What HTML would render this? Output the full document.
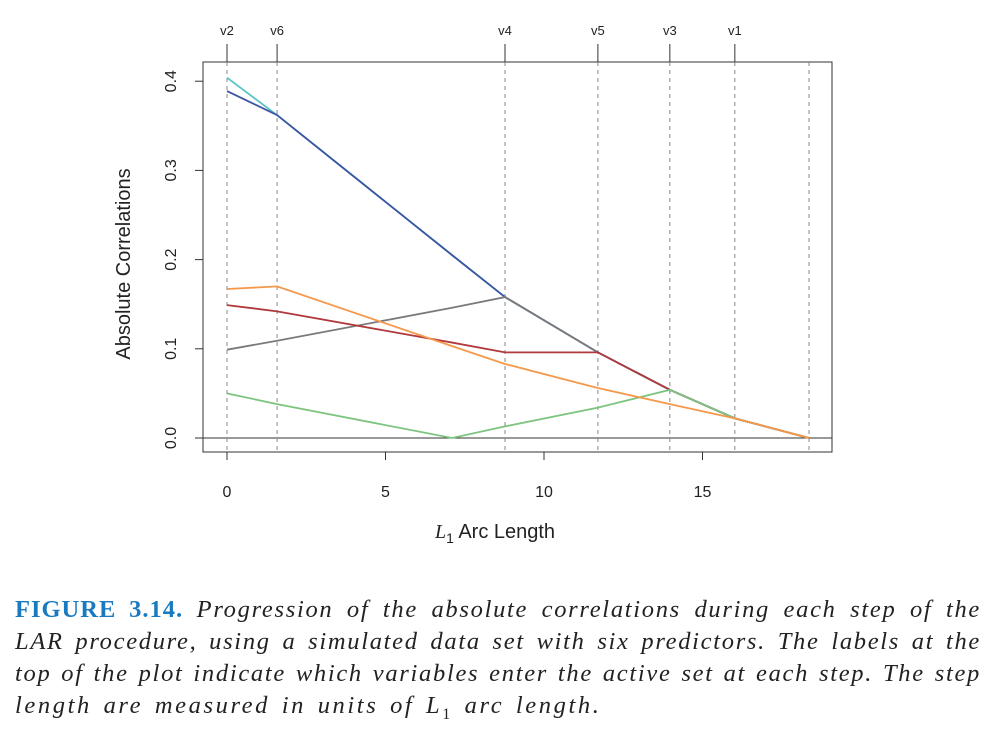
<!DOCTYPE html>
<html><head><meta charset="utf-8">
<style>
body{margin:0;background:#fff;width:1003px;height:747px;overflow:hidden;position:relative}
svg{position:absolute;left:0;top:0}
#cap{position:absolute;left:15px;top:594px;width:966px;font-family:"Liberation Serif",serif;font-style:italic;font-size:24.5px;line-height:32px;color:#222;letter-spacing:1.7px}
#cap .ln{height:32px;text-align:justify;text-align-last:justify;white-space:nowrap}
#cap .last{text-align-last:left;letter-spacing:2.6px;word-spacing:3px}
#cap b{font-style:normal;color:#1a7abf;letter-spacing:1px}
</style></head><body>
<svg id="chart" width="1003" height="590" font-family="Liberation Sans, sans-serif"></svg>
<div id="cap">
<div class="ln"><b>FIGURE 3.14.</b> Progression of the absolute correlations during each step of the</div>
<div class="ln">LAR procedure, using a simulated data set with six predictors. The labels at the</div>
<div class="ln">top of the plot indicate which variables enter the active set at each step. The step</div>
<div class="ln last">length are measured in units of L<sub style="font-style:normal;font-size:16px">1</sub> arc length.</div>
</div>
<script>
const steps=[0,1.58,7.1,8.77,11.7,13.97,16.02,18.36];
const stepLabels=["v2","v6","v4","v5","v3","v1",""];
const stepX=[0,1.58,8.77,11.7,13.97,16.02,18.36];
const cyanVals=[0.404,0.362,0.205,0.158,0.096,0.054,0.022,0];
const blueVals=[0.389,0.362,0.205,0.158,0.096,0.054,0.022,0];
const greyVals=[0.099,0.109,0.146,0.158,0.096,0.054,0.022,0];
const redVals=[0.149,0.142,0.107,0.096,0.096,0.054,0.022,0];
const greenVals=[0.050,0.038,0,0.013,0.034,0.054,0.022,0];
const orangeVals=[0.167,0.170,0.103,0.083,0.056,0.038,0.022,0];
const xTicks=[0,5,10,15];
const yTicks=[0,0.1,0.2,0.3,0.4];
const svg=document.getElementById('chart');
const NS='http://www.w3.org/2000/svg';
const X=v=>227+v*31.7, Y=v=>438-v*892;
function mk(t,a,txt){const e=document.createElementNS(NS,t);for(const k in a)e.setAttribute(k,a[k]);if(txt!==undefined)e.textContent=txt;svg.appendChild(e);return e;}
let e=mk('rect',{x:203,y:62,width:629,height:390,fill:'none',stroke:'#333','stroke-width':1});

e=mk('line',{x1:203,x2:832,y1:Y(0),y2:Y(0),stroke:'#333'});

stepX.forEach((s,i)=>{
 let l=mk('line',{x1:X(s),x2:X(s),y1:62,y2:452,stroke:'#888','stroke-dasharray':'4,4'});
 
 if(stepLabels[i]){
  let t=mk('line',{x1:X(s),x2:X(s),y1:44,y2:62,stroke:'#333'});
  
  let tx=mk('text',{x:X(s),y:35,'text-anchor':'middle','font-size':13,fill:'#222'},stepLabels[i]);
  
 }
});
xTicks.forEach(v=>{
 let t=mk('line',{x1:X(v),x2:X(v),y1:452,y2:460,stroke:'#333'});
 
 let tx=mk('text',{x:X(v),y:497,'text-anchor':'middle','font-size':16,fill:'#222'},String(v));
 
});
yTicks.forEach(v=>{
 let t=mk('line',{x1:195,x2:203,y1:Y(v),y2:Y(v),stroke:'#333'});
 
 let tx=mk('text',{x:0,y:0,'text-anchor':'middle','font-size':16,fill:'#222',transform:`translate(176,${Y(v)}) rotate(-90)`},v.toFixed(1));
 
});
e=mk('text',{x:0,y:0,'text-anchor':'middle','font-size':20,fill:'#222',transform:'translate(130,264) rotate(-90)'},'Absolute Correlations');

e=mk('text',{x:495,y:538,'text-anchor':'middle','font-size':20,fill:'#222'});
e.innerHTML='<tspan font-family="Liberation Serif,serif" font-style="italic">L</tspan><tspan font-size="14" dy="5">1</tspan><tspan dy="-5"> Arc Length</tspan>';

const series=[['cyan',cyanVals,'#5cc6c6'],['blue',blueVals,'#3b55a2'],['grey',greyVals,'#7a7a7a'],['red',redVals,'#b0393c'],['green',greenVals,'#7dc47f'],['orange',orangeVals,'#f5984a']];
series.forEach(([n,vals,c])=>{
 let p=mk('polyline',{points:steps.map((s,i)=>X(s)+','+Y(vals[i])).join(' '),fill:'none',stroke:c,'stroke-width':1.8});
 
 
});
</script>
</body></html>
